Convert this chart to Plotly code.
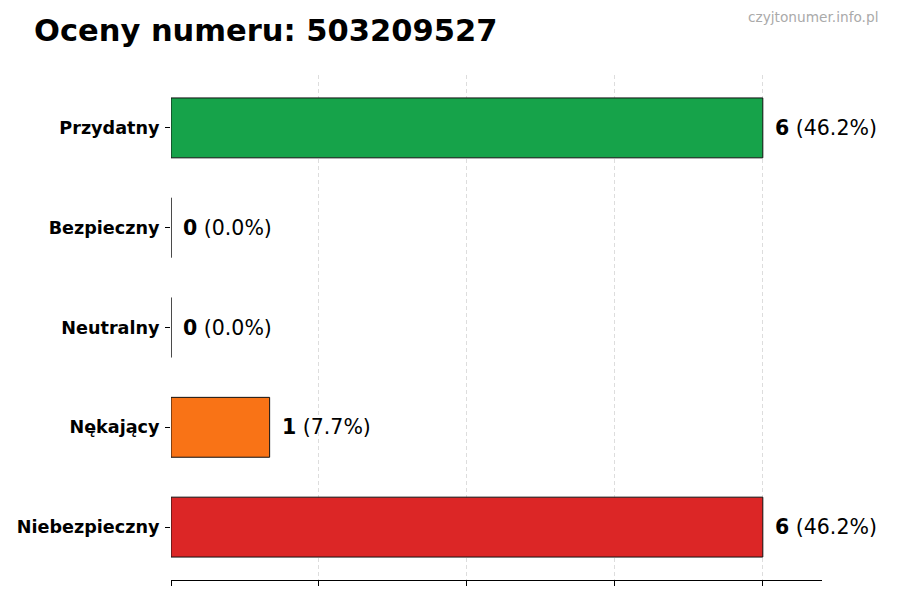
import plotly.graph_objects as go

# oceny numeru - wykres poziomy
categories = ["Niebezpieczny", "Nękający", "Neutralny", "Bezpieczny", "Przydatny"]
counts = [6, 1, 0, 0, 6]
colors = ["#dc2626", "#f97316", "#9ca3af", "#3b82f6", "#16a34a"]
x_ticks = [0, 1.5, 3, 4.5, 6]

total = sum(counts)
percents = [100 * c / total if total else 0 for c in counts]

fig = go.Figure(
    go.Bar(
        x=counts,
        y=categories,
        orientation="h",
        width=0.6,
        marker=dict(color=colors, line=dict(color="#111111", width=1)),
        hoverinfo="skip",
    )
)

for cat, c, p in zip(categories, counts, percents):
    fig.add_annotation(
        x=c,
        y=cat,
        text=f"<b>{c}</b> ({p:.1f}%)",
        showarrow=False,
        xanchor="left",
        xshift=10,
        font=dict(size=20.5, color="black"),
    )

fig.add_annotation(
    x=1, y=1, xref="paper", yref="paper",
    xanchor="right", yanchor="middle",
    xshift=58, yshift=58,
    text="czyjtonumer.info.pl",
    showarrow=False,
    font=dict(size=13.7, color="#aaaaaa"),
)

# strona ma 8px marginesu, wiec figura jest troche mniejsza
fig.update_layout(
    width=892,
    height=592,
    margin=dict(l=163, r=78, t=67, b=20),
    plot_bgcolor="white",
    paper_bgcolor="white",
    font=dict(family="DejaVu Sans", color="black"),
    title=dict(
        text="<b>Oceny numeru: 503209527</b>",
        x=26 / 892, xanchor="left",
        y=1 - 22 / 592, yanchor="middle",
        font=dict(size=30.5, color="black"),
    ),
    showlegend=False,
)

fig.update_xaxes(
    range=[0, 6.6],
    tickvals=x_ticks,
    showticklabels=False,
    ticks="outside",
    ticklen=5,
    tickcolor="black",
    showgrid=True,
    gridcolor="#dddddd",
    griddash="4px,3px",
    gridwidth=1,
    showline=True,
    linecolor="black",
    linewidth=1,
    zeroline=False,
)

fig.update_yaxes(
    categoryorder="array",
    categoryarray=categories,
    range=[-0.53, 4.53],
    ticks="outside",
    ticklen=5,
    tickcolor="black",
    tickfont=dict(size=17.6, family="DejaVu Sans"),
    tickprefix="<b>",
    ticksuffix="</b>",
    showgrid=False,
    showline=False,
    zeroline=False,
    automargin=False,
    ticklabelstandoff=2,
)

fig.write_html("out.html")
